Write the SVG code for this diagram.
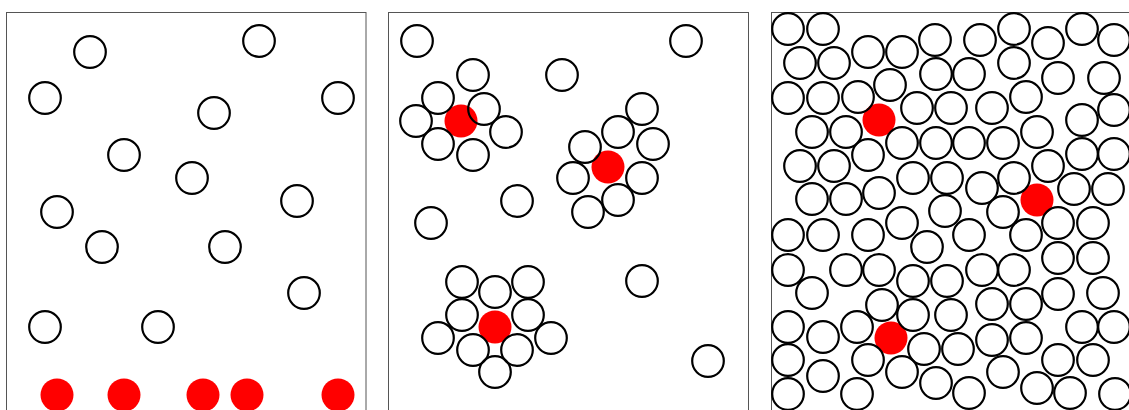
<svg xmlns="http://www.w3.org/2000/svg" width="1129" height="410" viewBox="0 0 1129 410">
<style>
.frame{fill:#fff;stroke:#555;stroke-width:1}
.c{fill:none;stroke:#000;stroke-width:2.2}
.r{fill:#f00;stroke:none}
</style>
<defs>
<circle id="o" r="15.8" class="c"/>
<circle id="f" r="16.5" class="r"/>
</defs>
<rect width="1129" height="410" fill="#fff"/>
<g id="panel1">
<rect class="frame" x="6.5" y="12.5" width="359.5" height="410"/>
<use href="#o" x="90" y="52"/><use href="#o" x="259" y="41"/><use href="#o" x="45" y="98"/>
<use href="#o" x="214" y="113"/><use href="#o" x="338" y="98"/><use href="#o" x="124" y="155"/>
<use href="#o" x="192" y="178"/><use href="#o" x="57" y="212"/><use href="#o" x="297" y="201"/>
<use href="#o" x="102" y="247"/><use href="#o" x="225" y="247"/><use href="#o" x="304" y="293"/>
<use href="#o" x="45" y="327"/><use href="#o" x="158" y="327"/>
<use href="#f" x="57" y="395"/><use href="#f" x="124" y="395"/><use href="#f" x="203" y="395"/>
<use href="#f" x="247" y="395"/><use href="#f" x="338" y="395"/>
</g>
<g id="panel2">
<rect class="frame" x="388.5" y="12.5" width="360" height="410"/>
<use href="#f" x="461" y="121"/><use href="#f" x="608" y="167"/><use href="#f" x="495" y="327"/>
<use href="#o" x="417" y="41"/><use href="#o" x="686" y="41"/><use href="#o" x="473" y="75"/>
<use href="#o" x="562" y="75"/><use href="#o" x="438" y="98"/><use href="#o" x="484" y="109"/>
<use href="#o" x="416" y="121"/><use href="#o" x="506" y="132"/><use href="#o" x="438" y="144"/>
<use href="#o" x="473" y="155"/>
<use href="#o" x="642" y="109"/><use href="#o" x="618" y="132"/><use href="#o" x="653" y="144"/>
<use href="#o" x="585" y="147"/><use href="#o" x="573" y="178"/><use href="#o" x="642" y="178"/>
<use href="#o" x="618" y="200"/><use href="#o" x="588" y="212"/>
<use href="#o" x="517" y="201"/><use href="#o" x="431" y="223"/><use href="#o" x="642" y="281"/>
<use href="#o" x="708" y="361"/>
<use href="#o" x="462" y="282"/><use href="#o" x="495" y="292"/><use href="#o" x="528" y="282"/>
<use href="#o" x="462" y="315"/><use href="#o" x="528" y="315"/><use href="#o" x="438" y="338"/>
<use href="#o" x="551" y="338"/><use href="#o" x="473" y="350"/><use href="#o" x="517" y="350"/>
<use href="#o" x="495" y="372"/>
</g>
<g id="panel3">
<rect class="frame" x="771.5" y="12.5" width="400" height="410"/>
<use href="#f" x="879" y="120"/><use href="#f" x="1037" y="200"/><use href="#f" x="891" y="338"/>
<use href="#o" x="788" y="29"/><use href="#o" x="823" y="29"/><use href="#o" x="935" y="40"/>
<use href="#o" x="980" y="40"/><use href="#o" x="1014" y="29"/><use href="#o" x="1048" y="43"/>
<use href="#o" x="1082" y="29"/><use href="#o" x="1114" y="40"/>
<use href="#o" x="868" y="52"/><use href="#o" x="902" y="52"/>
<use href="#o" x="800" y="63"/><use href="#o" x="834" y="63"/><use href="#o" x="1014" y="63"/>
<use href="#o" x="936" y="74"/><use href="#o" x="969" y="74"/><use href="#o" x="1058" y="78"/><use href="#o" x="1104" y="78"/>
<use href="#o" x="890" y="85"/>
<use href="#o" x="788" y="98"/><use href="#o" x="823" y="98"/><use href="#o" x="858" y="97"/><use href="#o" x="1026" y="97"/>
<use href="#o" x="917" y="108"/><use href="#o" x="951" y="108"/><use href="#o" x="992" y="108"/><use href="#o" x="1114" y="110"/>
<use href="#o" x="1082" y="120"/>
<use href="#o" x="812" y="132"/><use href="#o" x="846" y="132"/><use href="#o" x="1037" y="132"/>
<use href="#o" x="902" y="143"/><use href="#o" x="936" y="143"/><use href="#o" x="969" y="143"/><use href="#o" x="1003" y="143"/>
<use href="#o" x="868" y="155"/><use href="#o" x="1082" y="154"/><use href="#o" x="1114" y="154"/>
<use href="#o" x="800" y="166"/><use href="#o" x="834" y="166"/><use href="#o" x="1048" y="166"/>
<use href="#o" x="913" y="178"/><use href="#o" x="947" y="178"/><use href="#o" x="1014" y="178"/>
<use href="#o" x="982" y="188"/><use href="#o" x="1074" y="189"/><use href="#o" x="1108" y="189"/>
<use href="#o" x="879" y="193"/>
<use href="#o" x="812" y="199"/><use href="#o" x="846" y="199"/>
<use href="#o" x="945" y="211"/><use href="#o" x="1003" y="212"/>
<use href="#o" x="902" y="223"/><use href="#o" x="1058" y="223"/><use href="#o" x="1093" y="223"/>
<use href="#o" x="788" y="235"/><use href="#o" x="823" y="235"/><use href="#o" x="868" y="235"/><use href="#o" x="969" y="235"/><use href="#o" x="1026" y="235"/>
<use href="#o" x="927" y="247"/>
<use href="#o" x="1058" y="258"/><use href="#o" x="1093" y="258"/>
<use href="#o" x="788" y="270"/><use href="#o" x="846" y="270"/><use href="#o" x="879" y="270"/><use href="#o" x="982" y="270"/><use href="#o" x="1014" y="270"/>
<use href="#o" x="913" y="281"/><use href="#o" x="947" y="281"/>
<use href="#o" x="812" y="293"/><use href="#o" x="1058" y="294"/><use href="#o" x="1103" y="293"/>
<use href="#o" x="882" y="305"/><use href="#o" x="992" y="304"/><use href="#o" x="1026" y="304"/>
<use href="#o" x="913" y="315"/><use href="#o" x="951" y="315"/>
<use href="#o" x="788" y="327"/><use href="#o" x="857" y="327"/><use href="#o" x="1082" y="327"/><use href="#o" x="1114" y="327"/>
<use href="#o" x="823" y="337"/><use href="#o" x="992" y="340"/><use href="#o" x="1026" y="338"/>
<use href="#o" x="924" y="349"/><use href="#o" x="958" y="349"/>
<use href="#o" x="788" y="360"/><use href="#o" x="868" y="360"/><use href="#o" x="1058" y="360"/><use href="#o" x="1093" y="360"/>
<use href="#o" x="902" y="372"/><use href="#o" x="1003" y="372"/>
<use href="#o" x="823" y="376"/>
<use href="#o" x="936" y="383"/><use href="#o" x="1037" y="388"/>
<use href="#o" x="788" y="394"/><use href="#o" x="857" y="394"/><use href="#o" x="969" y="393"/><use href="#o" x="1070" y="393"/><use href="#o" x="1115" y="394"/>
</g>
</svg>
